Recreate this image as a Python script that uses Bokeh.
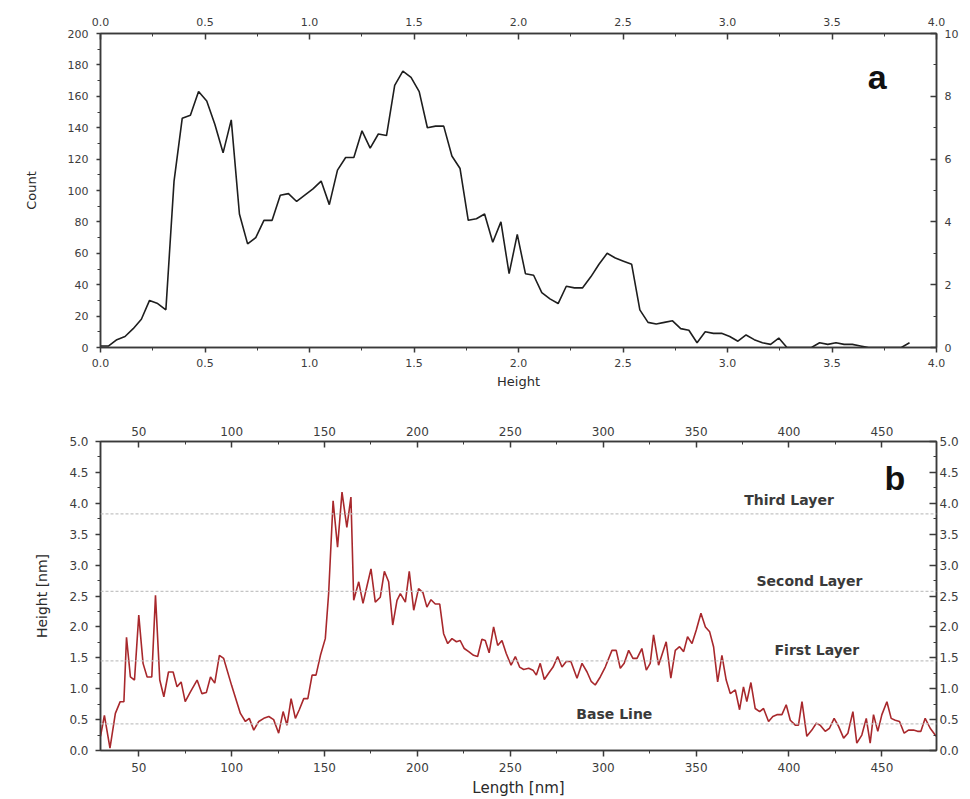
import numpy as np
from bokeh.plotting import figure
from bokeh.models import LinearAxis, Range1d, FixedTicker, Label, Span, PrintfTickFormatter
from bokeh.layouts import column
from bokeh.embed import file_html
from bokeh.resources import INLINE

# ---------------- data: panel a (height histogram) ----------------
HEIGHT_BIN_WIDTH = 0.0391
COUNTS = [1, 1, 5, 7, 12, 18, 30, 28, 24, 106,
          146, 148, 163, 157, 142, 124, 145, 85, 66, 70,
          81, 81, 97, 98, 93, 97, 101, 106, 91, 113,
          121, 121, 138, 127, 136, 135, 167, 176, 172, 163,
          140, 141, 141, 122, 114, 81, 82, 85, 67, 80,
          47, 72, 47, 46, 35, 31, 28, 39, 38, 38,
          45, 53, 60, 57, 55, 53, 24, 16, 15, 16,
          17, 12, 11, 3, 10, 9, 9, 7, 4, 8,
          5, 3, 2, 6, 0, 0, 0, 0, 3, 2,
          3, 2, 2, 1, 0, 0, 0, 0, 0, 3]
HEIGHTS = [round(i * HEIGHT_BIN_WIDTH, 4) for i in range(len(COUNTS))]

A_X_TICKS = [0.0, 0.5, 1.0, 1.5, 2.0, 2.5, 3.0, 3.5, 4.0]
A_Y_TICKS = [0, 20, 40, 60, 80, 100, 120, 140, 160, 180, 200]
A_Y2_TICKS = [0, 2, 4, 6, 8, 10]

# ---------------- data: panel b (height profile) ----------------
LENGTH_NM = [29.4, 31.5, 34.5, 37.4, 40.0, 42.0, 43.4, 45.5, 47.7, 50.0,
             52.3, 54.5, 57.0, 59.0, 61.3, 63.5, 66.0, 68.5, 70.6, 72.8,
             75.0, 77.8, 81.4, 84.0, 86.4, 88.6, 90.9, 93.4, 95.7, 100.0,
             104.7, 107.4, 109.5, 111.9, 114.6, 117.3, 120.0, 122.6, 125.3, 127.7,
             129.8, 132.0, 134.3, 136.4, 138.8, 141.0, 143.3, 145.4, 147.8, 150.4,
             152.2, 154.6, 157.0, 159.4, 162.0, 164.2, 165.7, 168.4, 170.7, 172.9,
             175.0, 177.3, 180.0, 182.2, 184.5, 186.7, 189.0, 190.8, 193.5, 195.6,
             198.0, 200.6, 202.9, 205.1, 207.3, 209.6, 212.0, 214.1, 216.3, 218.6,
             221.0, 223.0, 225.2, 227.6, 230.2, 232.4, 234.7, 236.5, 238.6, 241.0,
             243.2, 245.5, 247.8, 250.4, 252.7, 255.0, 257.2, 259.9, 262.2, 264.0,
             266.1, 268.3, 270.6, 273.0, 275.5, 277.8, 280.1, 282.6, 285.9, 288.6,
             291.3, 293.5, 295.7, 298.4, 301.1, 304.7, 307.0, 309.2, 311.3, 313.7,
             316.0, 318.2, 320.8, 323.2, 325.3, 327.1, 329.8, 333.9, 336.4, 338.8,
             341.1, 343.3, 345.4, 347.8, 350.1, 352.6, 355.0, 357.3, 359.4, 361.6,
             363.9, 366.2, 368.4, 371.1, 373.4, 375.5, 377.3, 379.5, 381.8, 384.2,
             386.3, 389.0, 391.3, 393.5, 396.2, 398.5, 400.7, 403.4, 405.1, 407.0,
             409.6, 412.3, 414.7, 416.8, 419.5, 421.8, 424.3, 426.7, 429.4, 431.7,
             434.4, 436.5, 439.2, 441.6, 443.7, 445.5, 447.8, 450.0, 452.7, 455.0,
             457.2, 459.5, 462.0, 464.3, 467.0, 469.2, 471.0, 473.3, 476.0, 479.2]
PROFILE_HEIGHT = [0.23, 0.57, 0.04, 0.60, 0.79, 0.79, 1.83, 1.19, 1.14, 2.19,
                  1.41, 1.19, 1.19, 2.51, 1.14, 0.87, 1.27, 1.27, 1.03, 1.11,
                  0.79, 0.95, 1.14, 0.92, 0.94, 1.19, 1.09, 1.54, 1.49, 1.05,
                  0.60, 0.47, 0.52, 0.33, 0.47, 0.52, 0.55, 0.50, 0.28, 0.63,
                  0.41, 0.84, 0.52, 0.66, 0.84, 0.84, 1.22, 1.22, 1.54, 1.81,
                  2.54, 4.04, 3.29, 4.18, 3.61, 4.10, 2.43, 2.73, 2.38, 2.67,
                  2.94, 2.40, 2.48, 2.90, 2.73, 2.03, 2.43, 2.54, 2.40, 2.90,
                  2.27, 2.62, 2.56, 2.32, 2.44, 2.37, 2.37, 1.89, 1.73, 1.81,
                  1.76, 1.78, 1.65, 1.60, 1.54, 1.52, 1.80, 1.78, 1.58, 2.00,
                  1.70, 1.78, 1.57, 1.38, 1.52, 1.35, 1.31, 1.33, 1.30, 1.22,
                  1.41, 1.15, 1.25, 1.35, 1.52, 1.35, 1.44, 1.44, 1.17, 1.41,
                  1.27, 1.12, 1.06, 1.19, 1.35, 1.62, 1.62, 1.33, 1.41, 1.62,
                  1.49, 1.49, 1.65, 1.30, 1.41, 1.87, 1.38, 1.76, 1.17, 1.62,
                  1.68, 1.60, 1.84, 1.73, 1.95, 2.22, 2.00, 1.92, 1.68, 1.11,
                  1.54, 1.14, 0.92, 0.98, 0.66, 1.03, 0.79, 1.10, 0.68, 0.63,
                  0.68, 0.47, 0.55, 0.58, 0.58, 0.74, 0.49, 0.41, 0.41, 0.79,
                  0.23, 0.33, 0.44, 0.41, 0.31, 0.36, 0.52, 0.39, 0.20, 0.28,
                  0.63, 0.12, 0.25, 0.52, 0.12, 0.58, 0.31, 0.58, 0.79, 0.52,
                  0.49, 0.47, 0.28, 0.33, 0.33, 0.31, 0.31, 0.52, 0.36, 0.23]

LAYER_NAMES = ["Third Layer", "Second Layer", "First Layer", "Base Line"]
LAYER_LEVELS = [3.83, 2.575, 1.45, 0.43]
LAYER_LABEL_X = [400, 411, 415, 306]
LAYER_LABEL_Y = [4.05, 2.75, 1.62, 0.59]

B_X_TICKS = [50, 100, 150, 200, 250, 300, 350, 400, 450]
B_Y_TICKS = [0.0, 0.5, 1.0, 1.5, 2.0, 2.5, 3.0, 3.5, 4.0, 4.5, 5.0]

TICK_FONT = "DejaVu Sans"
TITLE_FONT = "DejaVu Sans"
AX_COLOR = "#3a3a3a"


def minor_between(ticks):
    return [(a + b) / 2 for a, b in zip(ticks[:-1], ticks[1:])]


def style_axis(ax, ticks, fmt, tick_in, tick_out, standoff, size="11px"):
    ax.ticker = FixedTicker(ticks=ticks, minor_ticks=minor_between(ticks))
    ax.formatter = PrintfTickFormatter(format=fmt)
    ax.major_tick_in = tick_in
    ax.major_tick_out = tick_out
    ax.minor_tick_in = 3 if tick_in else 0
    ax.minor_tick_out = 3 if tick_out else 0
    ax.major_label_standoff = standoff
    ax.major_label_text_font = TICK_FONT
    ax.major_label_text_font_size = size
    ax.major_label_text_color = "#3c3c3c"
    ax.axis_line_color = AX_COLOR
    ax.axis_line_width = 1.5
    ax.major_tick_line_color = AX_COLOR
    ax.major_tick_line_width = 1.5
    ax.minor_tick_line_color = AX_COLOR
    ax.minor_tick_line_width = 1
    ax.axis_label_text_font = TITLE_FONT
    ax.axis_label_text_font_style = "normal"
    ax.axis_label_text_color = "#2a2a2a"


# ---------------- panel a ----------------
p1 = figure(width=970, height=400, output_backend="svg", toolbar_location=None,
            x_range=Range1d(0, 4), y_range=Range1d(0, 200),
            min_border_left=88, min_border_right=22, min_border_top=33, min_border_bottom=53,
            x_axis_location=None, y_axis_location=None)
p1.extra_y_ranges = {"right": Range1d(0, 10)}
p1.grid.visible = False
p1.outline_line_color = AX_COLOR
p1.outline_line_width = 1.5
p1.background_fill_color = "white"
p1.border_fill_color = "white"

ax_b = LinearAxis(axis_label="Height")
style_axis(ax_b, A_X_TICKS, "%.1f", 0, 5, 6)
ax_b.axis_label_standoff = 4
ax_b.axis_label_text_font_size = "13px"
p1.add_layout(ax_b, "below")

ax_t = LinearAxis()
style_axis(ax_t, A_X_TICKS, "%.1f", 6, 0, 8)
p1.add_layout(ax_t, "above")

ax_l = LinearAxis(axis_label="Count")
style_axis(ax_l, A_Y_TICKS, "%d", 0, 4, 8)
ax_l.axis_label_standoff = 26
ax_l.axis_label_text_font_size = "13px"
p1.add_layout(ax_l, "left")

ax_r = LinearAxis(y_range_name="right")
style_axis(ax_r, A_Y2_TICKS, "%d", 6, 0, 8)
p1.add_layout(ax_r, "right")

p1.line(HEIGHTS, COUNTS, line_color="#1e1e1e", line_width=1.6)
p1.add_layout(Label(x=3.716, y=172, text="a", text_font="Liberation Sans", text_font_size="34px",
                    text_font_style="bold", text_color="#111111",
                    text_align="center", text_baseline="middle"))

# ---------------- panel b ----------------
p2 = figure(width=970, height=399, output_backend="svg", toolbar_location=None,
            x_range=Range1d(29.4, 479.4), y_range=Range1d(0, 5),
            min_border_left=100, min_border_right=34, min_border_top=41, min_border_bottom=48,
            x_axis_location=None, y_axis_location=None)
p2.grid.visible = False
p2.outline_line_color = AX_COLOR
p2.outline_line_width = 1.5
p2.background_fill_color = "white"
p2.border_fill_color = "white"

bx_b = LinearAxis(axis_label="Length [nm]")
style_axis(bx_b, B_X_TICKS, "%d", 0, 6, 6, size="12px")
bx_b.axis_label_standoff = 4
bx_b.axis_label_text_font_size = "15px"
p2.add_layout(bx_b, "below")

bx_t = LinearAxis()
style_axis(bx_t, B_X_TICKS, "%d", 6, 0, 6, size="12px")
p2.add_layout(bx_t, "above")

by_l = LinearAxis(axis_label="Height [nm]")
style_axis(by_l, B_Y_TICKS, "%.1f", 0, 5, 7, size="12px")
by_l.axis_label_standoff = 16
by_l.axis_label_text_font_size = "14px"
p2.add_layout(by_l, "left")

by_r = LinearAxis()
style_axis(by_r, B_Y_TICKS, "%.1f", 7, 0, 3, size="12px")
p2.add_layout(by_r, "right")

for lvl in LAYER_LEVELS:
    p2.add_layout(Span(location=lvl, dimension="width", line_color="#c4c4c4",
                       line_width=1.3, line_dash="3 2"))

for name, lx, ly in zip(LAYER_NAMES, LAYER_LABEL_X, LAYER_LABEL_Y):
    p2.add_layout(Label(x=lx, y=ly, text=name, text_font=TITLE_FONT, text_font_size="14px",
                        text_font_style="bold", text_color="#3a3a3a",
                        text_align="center", text_baseline="middle"))

p2.line(LENGTH_NM, PROFILE_HEIGHT, line_color="#a8282c", line_width=1.6)
p2.add_layout(Label(x=457, y=4.41, text="b", text_font="Liberation Sans", text_font_size="34px",
                    text_font_style="bold", text_color="#111111",
                    text_align="center", text_baseline="middle"))

layout = column(p1, p2, spacing=0)
open("out.html", "w").write(file_html(layout, INLINE))
